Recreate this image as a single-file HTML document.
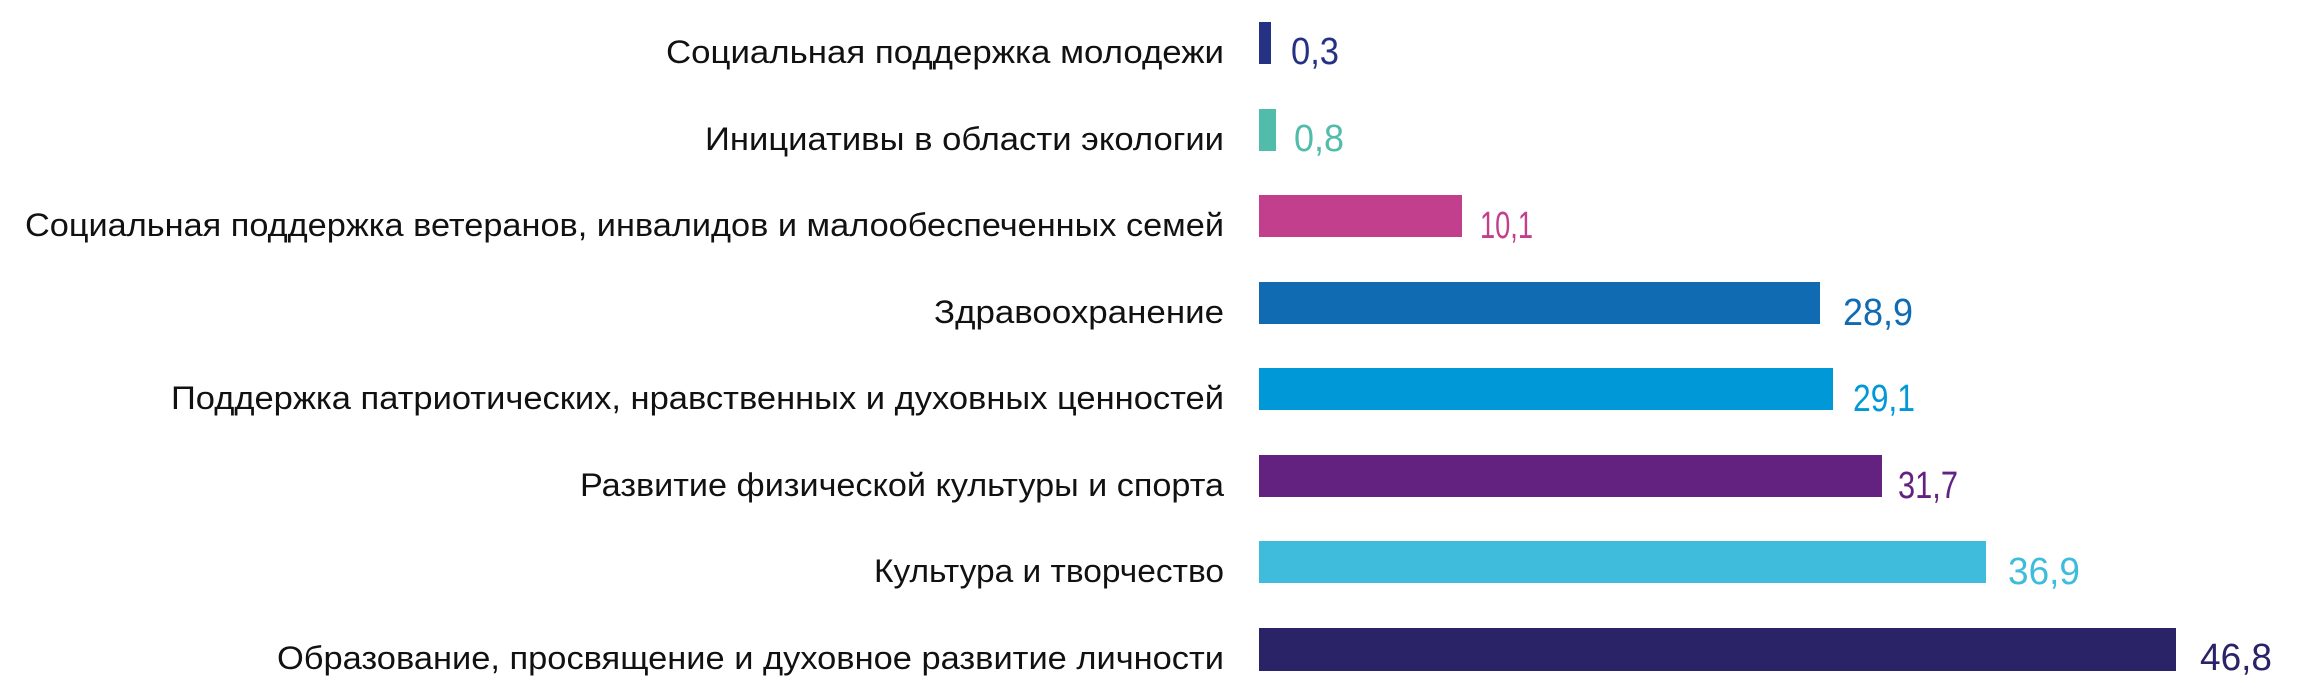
<!DOCTYPE html>
<html><head><meta charset="utf-8"><style>
html,body{margin:0;padding:0;background:#fff;width:2301px;height:696px;overflow:hidden}
svg{display:block}
.l{font-family:"Liberation Sans",sans-serif;font-size:32px;fill:#111;}
.v{font-family:"Liberation Sans",sans-serif;font-size:38px;}
</style></head><body>
<svg width="2301" height="696" viewBox="0 0 2301 696" xmlns="http://www.w3.org/2000/svg">
<g>
<rect x="1259" y="22" width="12" height="42" fill="#253183"/>
<rect x="1259" y="109" width="17" height="42" fill="#52bcaa"/>
<rect x="1259" y="195" width="203" height="42" fill="#c13f8d"/>
<rect x="1259" y="282" width="561" height="42" fill="#106bb3"/>
<rect x="1259" y="368" width="574" height="42" fill="#0098d6"/>
<rect x="1259" y="455" width="623" height="42" fill="#63227f"/>
<rect x="1259" y="541" width="727" height="42" fill="#3fbcdc"/>
<rect x="1259" y="628" width="917" height="43" fill="#2a2368"/>
</g>
<g class="l" text-anchor="start">
<text x="666" y="63" textLength="558" lengthAdjust="spacingAndGlyphs">Социальная поддержка молодежи</text>
<text x="705" y="150" textLength="519" lengthAdjust="spacingAndGlyphs">Инициативы в области экологии</text>
<text x="25" y="236" textLength="1199" lengthAdjust="spacingAndGlyphs">Социальная поддержка ветеранов, инвалидов и малообеспеченных семей</text>
<text x="934" y="323" textLength="290" lengthAdjust="spacingAndGlyphs">Здравоохранение</text>
<text x="171" y="409" textLength="1053" lengthAdjust="spacingAndGlyphs">Поддержка патриотических, нравственных и духовных ценностей</text>
<text x="580" y="496" textLength="644" lengthAdjust="spacingAndGlyphs">Развитие  физической культуры и спорта</text>
<text x="874" y="582" textLength="350" lengthAdjust="spacingAndGlyphs">Культура и творчество</text>
<text x="277" y="669" textLength="947" lengthAdjust="spacingAndGlyphs">Образование, просвящение и духовное развитие личности</text>
</g>
<g class="v">
<text x="1291" y="64" fill="#253183" textLength="48" lengthAdjust="spacingAndGlyphs">0,3</text>
<text x="1294" y="151" fill="#52bcaa" textLength="50" lengthAdjust="spacingAndGlyphs">0,8</text>
<text x="1480" y="238" fill="#c13f8d" textLength="53" lengthAdjust="spacingAndGlyphs">10,1</text>
<text x="1843" y="325" fill="#106bb3" textLength="70" lengthAdjust="spacingAndGlyphs">28,9</text>
<text x="1853" y="411" fill="#0098d6" textLength="62" lengthAdjust="spacingAndGlyphs">29,1</text>
<text x="1898" y="498" fill="#63227f" textLength="60" lengthAdjust="spacingAndGlyphs">31,7</text>
<text x="2008" y="584" fill="#3fbcdc" textLength="72" lengthAdjust="spacingAndGlyphs">36,9</text>
<text x="2200" y="670" fill="#2a2368" textLength="72" lengthAdjust="spacingAndGlyphs">46,8</text>
</g>
</svg>
</body></html>
